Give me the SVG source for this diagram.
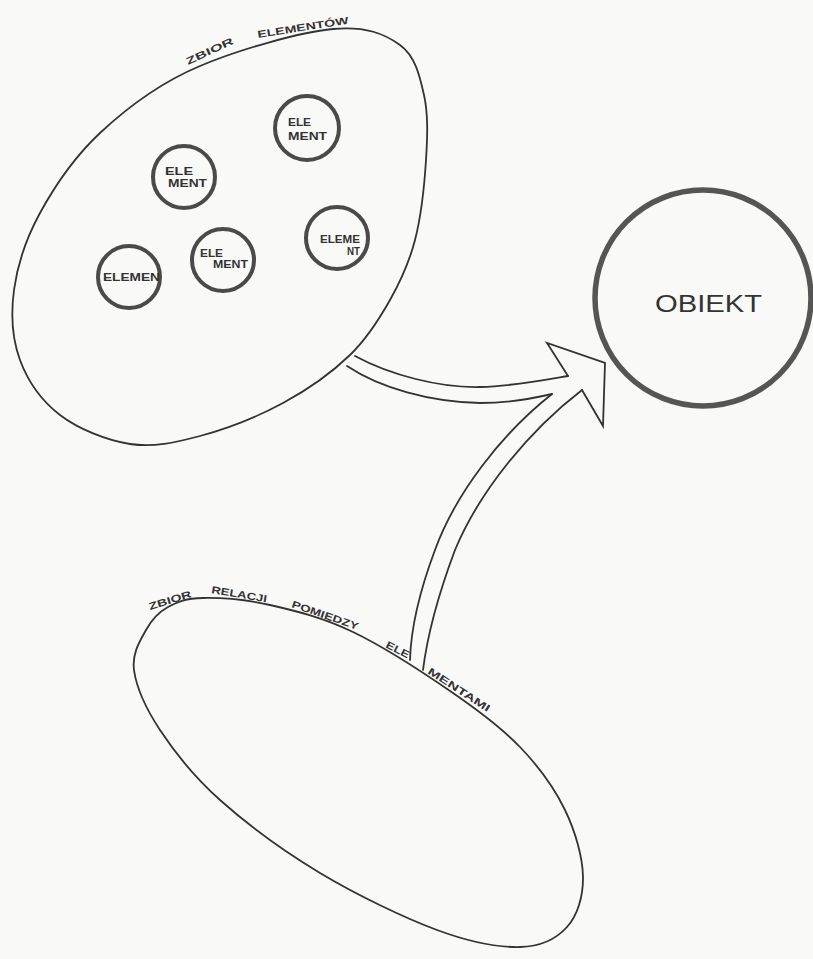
<svg xmlns="http://www.w3.org/2000/svg" width="813" height="959" viewBox="0 0 813 959">
<defs>
<style>
.outline{fill:none;stroke:#333;stroke-width:1.8;stroke-linejoin:round;stroke-linecap:round}
.el{fill:none;stroke:#4a4a4a;stroke-width:4}
.obj{fill:none;stroke:#555;stroke-width:5.5}
.conn{fill:none;stroke:#333;stroke-width:1.8;stroke-linejoin:miter;stroke-linecap:round}
.lbl{font-family:"Liberation Sans",Arial,sans-serif;font-size:10px;fill:#333;font-weight:bold}
.elt{font-family:"Liberation Sans",Arial,sans-serif;font-size:11px;fill:#333;font-weight:bold}
.big{font-family:"Liberation Sans",Arial,sans-serif;font-size:23px;fill:#333}
</style>
</defs>
<rect width="813" height="959" fill="#f9f9f8"/>

<g id="zbior-elementow">
<path class="outline" d="M333,29 C366.3,26 384.8,34 400,45 C415.2,56 419.7,75.8 424,95 C428.3,114.2 427.5,135.8 426,160 C424.5,184.2 421,216.7 415,240 C409,263.3 400.8,280.8 390,300 C379.2,319.2 367.8,337.8 350,355 C332.2,372.2 308,389.5 283,403 C258,416.5 225.5,429.2 200,436 C174.5,442.8 153.3,447.5 130,444 C106.7,440.5 78.3,429 60,415 C41.7,401 27.7,380.8 20,360 C12.3,339.2 10.7,314.5 14,290 C17.3,265.5 25.7,239.2 40,213 C54.3,186.8 73.3,158 100,133 C126.7,108 161.2,82.3 200,66 C238.8,49.7 299.7,32 333,29 Z"/>
<text class="lbl" transform="translate(188,65) rotate(-25)" textLength="51" lengthAdjust="spacingAndGlyphs">ZBIOR</text>
<text class="lbl" transform="translate(258,38) rotate(-9)" textLength="92" lengthAdjust="spacingAndGlyphs">ELEMENTÓW</text>
</g>

<g id="element-1">
<circle class="el" cx="307" cy="128" r="32"/>
<text class="elt" x="288" y="126" textLength="23" lengthAdjust="spacingAndGlyphs">ELE</text>
<text class="elt" x="288" y="140" textLength="39" lengthAdjust="spacingAndGlyphs">MENT</text>
</g>
<g id="element-2">
<circle class="el" cx="184" cy="177" r="31"/>
<text class="elt" x="165" y="175" textLength="28" lengthAdjust="spacingAndGlyphs">ELE</text>
<text class="elt" x="168" y="187" textLength="39" lengthAdjust="spacingAndGlyphs">MENT</text>
</g>
<g id="element-3">
<circle class="el" cx="223" cy="260" r="31"/>
<text class="elt" x="200" y="257" textLength="23" lengthAdjust="spacingAndGlyphs">ELE</text>
<text class="elt" x="213" y="268" textLength="35" lengthAdjust="spacingAndGlyphs">MENT</text>
</g>
<g id="element-4">
<circle class="el" cx="337" cy="238" r="31"/>
<text class="elt" x="320" y="243" textLength="40" lengthAdjust="spacingAndGlyphs">ELEME</text>
<text class="elt" x="347" y="255" textLength="13" lengthAdjust="spacingAndGlyphs">NT</text>
</g>
<g id="element-5">
<circle class="el" cx="129" cy="277" r="31"/>
<text class="elt" x="103" y="281" textLength="57" lengthAdjust="spacingAndGlyphs">ELEMEN</text>
</g>

<g id="obiekt">
<circle class="obj" cx="703" cy="298" r="108"/>
<text class="big" x="655" y="312" textLength="107" lengthAdjust="spacingAndGlyphs">OBIEKT</text>
</g>

<g id="zbior-relacji">
<path class="outline" d="M203,598 C220,597.7 245,599.3 270,605 C295,610.7 322.5,617.3 353,632 C383.5,646.7 425.2,673.8 453,693 C480.8,712.2 501.3,727.5 520,747 C538.7,766.5 554.5,788.3 565,810 C575.5,831.7 582.7,857.5 583,877 C583.3,896.5 577.5,915.3 567,927 C556.5,938.7 541.7,946.5 520,947 C498.3,947.5 470.3,942.3 437,930 C403.7,917.7 356.2,894.7 320,873 C283.8,851.3 246.7,823.8 220,800 C193.3,776.2 174.3,751.7 160,730 C145.7,708.3 136.3,686.7 134,670 C131.7,653.3 140.3,640.5 146,630 C151.7,619.5 158.5,612.3 168,607 C177.5,601.7 186,598.3 203,598 Z"/>
<text class="lbl" transform="translate(150,610) rotate(-17)" textLength="44" lengthAdjust="spacingAndGlyphs">ZBIOR</text>
<text class="lbl" transform="translate(211,593) rotate(9.5)" textLength="56" lengthAdjust="spacingAndGlyphs">RELACJI</text>
<text class="lbl" transform="translate(291,607) rotate(19)" textLength="70" lengthAdjust="spacingAndGlyphs">POMIĘDZY</text>
<text class="lbl" transform="translate(385,647) rotate(27)" textLength="25" lengthAdjust="spacingAndGlyphs">ELE</text>
<text class="lbl" transform="translate(427,673) rotate(33)" textLength="72" lengthAdjust="spacingAndGlyphs">MENTAMI</text>
</g>

<g id="connectors">
<path class="conn" d="M355,356 C390,375 440,388 480,387 C515,386 545,380 568,376"/>
<path class="conn" d="M347,366 C380,388 430,402 480,403 C510,403 535,398 552,394"/>
<path class="conn" d="M568,376 L547,343 L605,363 L603,426 L582,390"/>
<path class="conn" d="M582,390 C530,430 480,490 455,550 C440,590 428,630 423,670"/>
<path class="conn" d="M552,394 C500,435 455,495 435,550 C420,590 411,625 410,660"/>
</g>
</svg>
